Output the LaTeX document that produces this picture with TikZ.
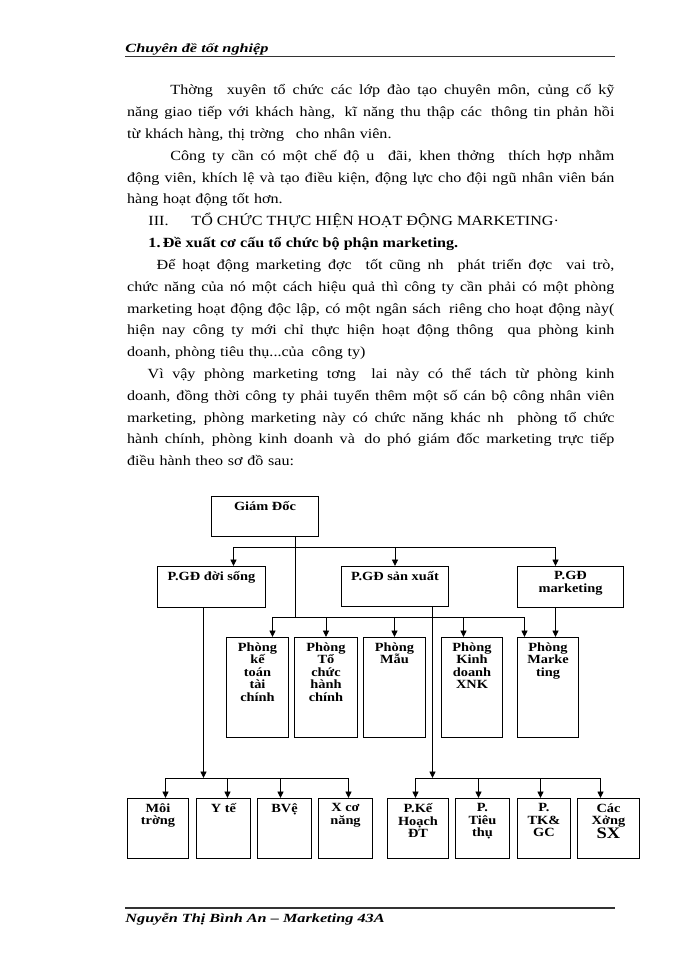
\documentclass[tikz,border=0pt]{standalone}
\usepackage{fontspec}
\setmainfont{Liberation Serif}[FakeStretch=1.15]
\newfontfamily\hdrfont{Liberation Serif}[FakeStretch=1.3]
\usetikzlibrary{arrows.meta}
\newcommand\wgap{\hspace{7pt}}
\newcommand\jl[1]{\leavevmode\hbox to 487.3pt{\spaceskip=0pt\xspaceskip=0pt #1}}
\tikzset{
  para/.style={anchor=base west, inner sep=0pt, text width=487.3pt, align=left, font=\fontsize{14}{21.8}\selectfont},
  txt/.style={anchor=base west, inner sep=0pt, font=\fontsize{14}{21.8}\selectfont},
  hdr/.style={anchor=base west, inner sep=0pt, font=\hdrfont\bfseries\itshape\fontsize{12.5}{14}\selectfont},
  rule/.style={line width=1.2pt, black!80},
  box/.style 2 args={draw, line width=1pt, anchor=north west, inner sep=0pt, minimum width=#1, minimum height=#2},
  lbl/.style={anchor=north, align=center, inner sep=0pt, yshift=-5pt, font=\fontsize{12.5}{12.5}\selectfont\bfseries}
}
\begin{document}
\begin{tikzpicture}[x=1pt, y=-1pt, >={Triangle[length=6.5pt,width=6pt]}, line width=0.9pt]
  \useasboundingbox (0,0) rectangle (700,960); \fill[white] (0,0) rectangle (700,960);
  % header and footer
  \node[hdr] (head) at (125,53) {Chuyên đề tốt nghiệp}; \draw[rule] (125,56.5) -- (615,56.5);
  \draw[rule] (125,908) -- (615,908); \node[hdr] (foot) at (125,922) {Nguyễn Thị Bình An – Marketing 43A};
  % text
  \node[para] (p1) at (126.7,95) {\jl{\kern43.3pt Thờng\wgap{} xuyên tổ chức các lớp đào tạo chuyên môn, củng cố kỹ}\\\jl{năng giao tiếp với khách hàng,\hspace{3pt} kĩ năng thu thập các\hspace{3pt} thông tin phản hồi}\\từ khách hàng, thị trờng\wgap{} cho nhân viên.};
  \node[para] (p2) at (126.7,160.4) {\jl{\kern43.3pt Công ty cần có một chế độ u\wgap{} đãi, khen thởng\wgap{} thích hợp nhằm}\\\jl{động viên, khích lệ và tạo điều kiện, động lực cho đội ngũ nhân viên bán}\\hàng hoạt động tốt hơn.};
  \node[txt] (s3) at (148,225.8) {III.}; \node[txt] (s3t) at (191,225.8) {TỔ CHỨC THỰC HIỆN HOẠT ĐỘNG MARKETING·};
  \node[txt] (s31) at (148,247.6) {\bfseries 1.\,Đề xuất cơ cấu tổ chức bộ phận marketing.};
  \node[para] (p3) at (126.7,269.4) {\jl{\kern29.5pt Để hoạt động marketing đợc\wgap{} tốt cũng nh\wgap{} phát triển đợc\wgap{} vai trò,}\\\jl{chức năng của nó một cách hiệu quả thì công ty cần phải có một phòng}\\\jl{marketing hoạt động độc lập, có một ngân sách\hspace{3pt} riêng cho hoạt động này(}\\\jl{hiện nay công ty mới chỉ thực hiện hoạt động thông\wgap{} qua phòng kinh}\\doanh, phòng tiêu thụ...của\hspace{3pt} công ty)};
  \node[para] (p4) at (126.7,378.4) {\jl{\kern20.5pt Vì vậy phòng marketing tơng\wgap{} lai này có thể tách từ phòng kinh}\\\jl{doanh, đồng thời công ty phải tuyển thêm một số cán bộ công nhân viên}\\\jl{marketing, phòng marketing này có chức năng khác nh\wgap{} phòng tổ chức}\\\jl{hành chính, phòng kinh doanh và\hspace{3pt} do phó giám đốc marketing trực tiếp}\\điều hành theo sơ đồ sau:};
  % chart boxes
  \node[box={107}{40}, label={[lbl]north:Giám Đốc}] (gd) at (211,496) {};
  \node[box={108}{41}, label={[lbl]north:P.GĐ đời sống}] (pds) at (157,566) {};
  \node[box={107}{40}, label={[lbl]north:P.GĐ sản xuất}] (psx) at (341,566) {};
  \node[box={106}{41}, label={[lbl]north:P.GĐ\\marketing}] (pmk) at (517,566) {};
  \node[box={62}{100}, label={[lbl]north:Phòng\\kế\\toán\\tài\\chính}] (kt) at (226,637) {};
  \node[box={63}{100}, label={[lbl]north:Phòng\\Tổ\\chức\\hành\\chính}] (tc) at (294,637) {};
  \node[box={62}{100}, label={[lbl]north:Phòng\\Mẫu}] (mau) at (363,637) {};
  \node[box={61}{100}, label={[lbl]north:Phòng\\Kinh\\doanh\\XNK}] (kd) at (441,637) {};
  \node[box={61}{100}, label={[lbl]north:Phòng\\Marke\\ting}] (mkt) at (517,637) {};
  \node[box={61}{60}, label={[lbl]north:Môi\\trờng}] (mt) at (127,798) {};
  \node[box={54}{60}, label={[lbl]north:Y tế}] (yt) at (196,798) {};
  \node[box={54}{60}, label={[lbl]north:BVệ}] (bv) at (257,798) {};
  \node[box={54}{60}, label={[lbl]north:X cơ\\năng}] (xcn) at (318,798) {};
  \node[box={61}{60}, label={[lbl]north:P.Kế\\Hoạch\\ĐT}] (kh) at (387,798) {};
  \node[box={54}{60}, label={[lbl]north:P.\\Tiêu\\thụ}] (tt) at (455,798) {};
  \node[box={53}{60}, label={[lbl]north:P.\\TK\&\\GC}] (tk) at (517,798) {};
  \node[box={62}{60}, label={[lbl]north:Các\\Xởng\\{\fontsize{16}{16}\selectfont SX}}] (xs) at (577,798) {};
  % outlets, inlets, buses
  \path (gd.south) ++(30.5,0) coordinate (ogd); \path (pds.south) ++(-8,0) coordinate (opds);
  \path (psx.south) ++(37.5,0) coordinate (opsx); \path (pmk.south) ++(-15,0) coordinate (opmk);
  \foreach \n/\d in {pds/22,psx/0,pmk/-15,kt/15,tc/0,mau/0,kd/-8.5,mkt/-23.5,mt/7.5,yt/4,bv/-4,xcn/3,kh/-2.5,tt/-4,tk/-3.5,xs/-8}
    \path (\n.north) ++(\d,0) coordinate (i\n);
  \coordinate (b1) at (0,547); \coordinate (b2) at (0,617); \coordinate (b3) at (0,778);
  % connectors
  \draw (ogd) -- (ogd |- b2); \draw (ipds |- b1) -- (ipmk |- b1);
  \foreach \n in {pds,psx,pmk} \draw[->] (i\n |- b1) -- (i\n);
  \draw (ikt |- b2) -- (imkt |- b2);
  \foreach \n in {kt,tc,mau,kd,mkt} \draw[->] (i\n |- b2) -- (i\n);
  \draw[->] (opmk) -- (opmk |- mkt.north);
  \draw[->] (opds) -- (opds |- b3); \draw (imt |- b3) -- (ixcn |- b3);
  \foreach \n in {mt,yt,bv,xcn} \draw[->] (i\n |- b3) -- (i\n);
  \draw[->] (opsx) -- (opsx |- b3); \draw (ikh |- b3) -- (ixs |- b3);
  \foreach \n in {kh,tt,tk,xs} \draw[->] (i\n |- b3) -- (i\n);
\end{tikzpicture}
\end{document}
